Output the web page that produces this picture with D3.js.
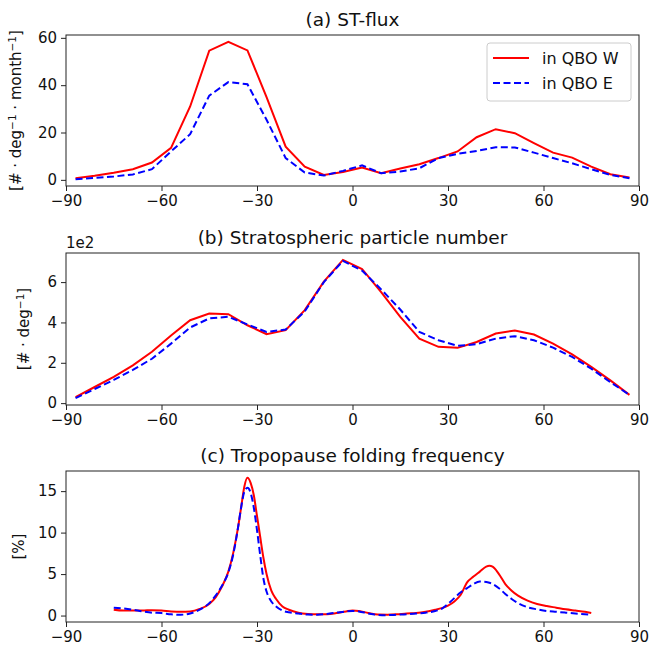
<!DOCTYPE html>
<html>
<head>
<meta charset="utf-8">
<script src="https://cdn.jsdelivr.net/npm/d3@7"></script>
<style>
  body { margin: 0; background: #fff; }
  svg { font-family: "DejaVu Sans", sans-serif; }
</style>
</head>
<body>
<svg id="fig" width="650" height="649"></svg>
<script>
// latitude bin centres for panels (a) and (b)
const lat = [-87, -81, -75, -69, -63, -57, -51, -45, -39, -33, -27, -21, -15, -9, -3,
             3, 9, 15, 21, 27, 33, 39, 45, 51, 57, 63, 69, 75, 81, 87];

// (a) ST-flux
const fluxW = [0.7, 1.7, 3.0, 4.5, 7.3, 13.5, 31, 54.6, 58.3, 54.7, 35, 14, 5.6, 2.1, 3.3,
               5.2, 2.8, 4.8, 6.6, 9.2, 12, 18, 21.4, 19.7, 15.5, 11.5, 9.4, 5.6, 2.4, 1.0];
const fluxE = [0.3, 0.8, 1.4, 2.3, 4.5, 12, 19.3, 35.6, 41.3, 40.4, 25.4, 9.2, 3.1, 1.8, 3.8,
               6.1, 2.8, 3.5, 4.9, 9.2, 11, 12.2, 13.8, 13.7, 11.5, 9.2, 7, 4.5, 2.1, 0.7];

// (b) stratospheric particle number
const partW = [30, 80, 130, 187, 255, 335, 411, 444, 441, 386, 342, 362, 461, 602, 710,
               665, 550, 428, 320, 279, 274, 303, 345, 360, 340, 295, 242, 180, 113, 41];
const partE = [25, 70, 115, 165, 220, 295, 375, 420, 428, 390, 353, 365, 455, 600, 705,
               657, 564, 464, 353, 312, 284, 292, 320, 332, 312, 275, 229, 171, 104, 41];

// (c) tropopause folding frequency
const foldLat = [-75, -72, -69, -66, -63, -60, -57, -54, -51, -48, -45, -43, -41, -39, -37.5,
                 -36, -35, -34, -33, -32, -31, -30, -29, -28, -27, -25.5, -24, -22, -20, -17,
                 -14, -11, -8, -5, -2, 0, 2, 5, 8, 11, 14, 17, 20, 23, 26, 28, 30, 32, 34,
                 36, 38, 40, 42, 43, 44, 46, 48, 50, 52, 55, 58, 61, 64, 67, 70, 73, 75];
const foldW = [0.7, 0.6, 0.6, 0.6, 0.65, 0.6, 0.5, 0.45, 0.5, 0.8, 1.4, 2.2, 3.5, 5.3, 7.5,
               10.5, 13.0, 15.5, 16.6, 16.0, 14.5, 12.0, 9.5, 7.0, 5.0, 3.0, 2.0, 1.1, 0.7, 0.35,
               0.2, 0.15, 0.15, 0.3, 0.5, 0.6, 0.55, 0.3, 0.12, 0.1, 0.15, 0.25, 0.3, 0.45, 0.7, 0.9, 1.2, 1.7, 2.5,
               4.0, 4.7, 5.3, 5.9, 6.0, 5.9, 5.0, 3.8, 3.0, 2.4, 1.8, 1.4, 1.15, 0.95, 0.75, 0.6, 0.45, 0.3];
const foldE = [0.95, 0.85, 0.7, 0.5, 0.35, 0.3, 0.15, 0.1, 0.25, 0.7, 1.5, 2.4, 3.6, 5.2, 7.3,
               10.5, 13.0, 14.9, 15.4, 14.8, 13.0, 10.3, 7.3, 4.5, 2.9, 1.7, 1.1, 0.6, 0.4, 0.25,
               0.12, 0.1, 0.2, 0.35, 0.5, 0.55, 0.5, 0.25, 0.08, 0.05, 0.1, 0.15, 0.25, 0.35, 0.55, 0.8, 1.4, 2.1, 2.8,
               3.3, 3.8, 4.1, 4.05, 3.95, 3.8, 3.3, 2.6, 2.0, 1.5, 1.0, 0.75, 0.55, 0.45, 0.35, 0.25, 0.15, 0.1];

const xTicks = [-90, -60, -30, 0, 30, 60, 90];
const yTicksA = [0, 20, 40, 60];
const yTicksB = [0, 200, 400, 600];
const yTicksC = [0, 5, 10, 15];

const seriesNames = ["in QBO W", "in QBO E"];

const svg = d3.select("#fig");
const left = 66, right = 639;
const tickFont = 15;

const x = d3.scaleLinear().domain([-90, 90]).range([left, right]);

// matplotlib-like 5% padding on y
function padded(vals) {
  const [lo, hi] = d3.extent(vals);
  const m = (hi - lo) * 0.05;
  return [lo - m, hi + m];
}

function superLabel(g, parts) {
  // parts: array of [text, isSuper]
  parts.forEach(([t, sup]) => {
    const ts = g.append("tspan").text(t);
    if (sup) ts.attr("font-size", "0.7em").attr("dy", "-0.5em");
    else if (g.selectAll("tspan").size() > 1) ts.attr("dy", "0.35em");
  });
}

function panel(opt) {
  const y = d3.scaleLinear().domain(padded(opt.w.concat(opt.e))).range([opt.bottom, opt.top]);
  const g = svg.append("g");

  g.append("g")
    .attr("transform", `translate(0,${opt.bottom})`)
    .call(d3.axisBottom(x).tickValues(xTicks).tickSizeOuter(0).tickSize(5).tickPadding(4))
    .call(a => a.select(".domain").remove())
    .call(a => a.selectAll("text").attr("font-size", tickFont).attr("fill", "#111").attr("font-family", "DejaVu Sans"))
    .call(a => a.selectAll("line").attr("stroke", "#222"));

  g.append("g")
    .attr("transform", `translate(${left},0)`)
    .call(d3.axisLeft(y).tickValues(opt.yTicks).tickFormat(opt.fmt || (d => d)).tickSizeOuter(0).tickSize(5).tickPadding(4))
    .call(a => a.select(".domain").remove())
    .call(a => a.selectAll("text").attr("font-size", tickFont).attr("fill", "#111").attr("font-family", "DejaVu Sans"))
    .call(a => a.selectAll("line").attr("stroke", "#222"));

  const line = d3.line()
    .x((d, i) => x(opt.lat[i]))
    .y(d => y(d))
    .curve(opt.curve || d3.curveLinear);

  g.append("path").datum(opt.w)
    .attr("d", line).attr("fill", "none")
    .attr("stroke", "#ff0000").attr("stroke-width", 2);
  g.append("path").datum(opt.e)
    .attr("d", line).attr("fill", "none")
    .attr("stroke", "#0000ff").attr("stroke-width", 2).attr("stroke-dasharray", "7,3.5");

  g.append("rect")
    .attr("x", left).attr("y", opt.top)
    .attr("width", right - left).attr("height", opt.bottom - opt.top)
    .attr("fill", "none").attr("stroke", "#222").attr("stroke-width", 1);

  g.append("text")
    .attr("x", (left + right) / 2).attr("y", opt.top - 9)
    .attr("text-anchor", "middle").attr("font-size", 18.5).attr("fill", "#111")
    .text(opt.title);

  const yl = g.append("text")
    .attr("transform", `translate(${opt.ylx},${(opt.top + opt.bottom) / 2}) rotate(-90)`)
    .attr("text-anchor", "middle").attr("font-size", 15).attr("fill", "#111");
  superLabel(yl, opt.ylabel);

  return { g, y };
}

// (a)
const pa = panel({
  top: 35, bottom: 186, lat: lat, w: fluxW, e: fluxE, yTicks: yTicksA,
  title: "(a) ST-flux", ylx: 21,
  ylabel: [["[# · deg", false], ["−1", true], [" · month", false], ["−1", true], ["]", false]]
});

// legend
const leg = pa.g.append("g").attr("transform", "translate(487,43)");
leg.append("rect").attr("width", 144).attr("height", 58).attr("rx", 3)
  .attr("fill", "#fff").attr("fill-opacity", 0.8).attr("stroke", "#ccc");
const legStyles = [{ c: "#ff0000", dash: null }, { c: "#0000ff", dash: "7,3.5" }];
seriesNames.forEach((name, i) => {
  const yy = 15 + i * 25;
  leg.append("line").attr("x1", 6).attr("x2", 42).attr("y1", yy).attr("y2", yy)
    .attr("stroke", legStyles[i].c).attr("stroke-width", 2)
    .attr("stroke-dasharray", legStyles[i].dash);
  leg.append("text").attr("x", 55).attr("y", yy + 5.5)
    .attr("font-size", 16).attr("fill", "#111").text(name);
});

// (b)
const pb = panel({
  top: 253, bottom: 405, lat: lat, w: partW, e: partE, yTicks: yTicksB,
  fmt: d => d / 100,
  title: "(b) Stratospheric particle number", ylx: 29,
  ylabel: [["[# · deg", false], ["−1", true], ["]", false]]
});
pb.g.append("text").attr("x", left).attr("y", 248)
  .attr("font-size", tickFont).attr("fill", "#111").text("1e2");

// (c)
panel({
  top: 471, bottom: 622, lat: foldLat, w: foldW, e: foldE, yTicks: yTicksC,
  curve: d3.curveMonotoneX,
  title: "(c) Tropopause folding frequency", ylx: 24,
  ylabel: [["[%]", false]]
});
</script>
</body>
</html>
